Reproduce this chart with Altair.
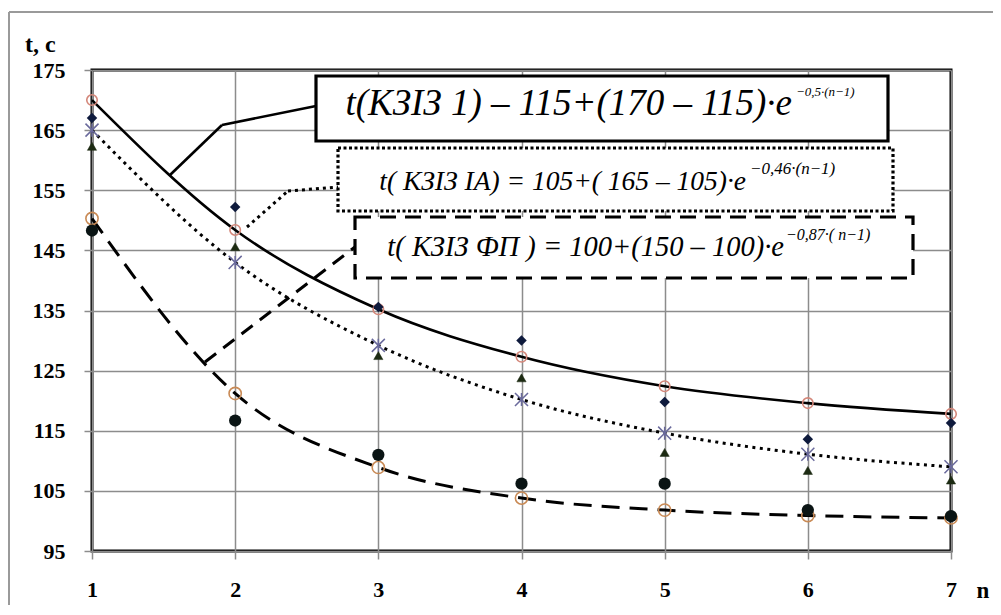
import altair as alt
import pandas as pd

# ---------------- data ----------------
n_values = [1, 2, 3, 4, 5, 6, 7]
# curve t(КЗІЗ 1): calculated points (pink open circles) and experiment (diamonds)
kziz1_calc = [170.0, 148.4, 135.2, 127.3, 122.4, 119.6, 117.8]
kziz1_exp = [167.0, 152.2, 135.6, 130.0, 119.8, 113.6, 116.3]
# curve t(КЗІЗ ІА): calculated points (asterisks) and experiment (triangles)
kziz_ia_calc = [165.0, 143.0, 129.2, 120.2, 114.6, 111.1, 109.0]
kziz_ia_exp = [162.3, 145.6, 127.5, 123.8, 111.4, 108.4, 106.8]
# curve t(КЗІЗ ФП): calculated points (orange open circles) and experiment (black dots)
kziz_fp_calc = [150.3, 121.2, 108.9, 103.8, 101.8, 100.9, 100.5]
kziz_fp_exp = [148.3, 116.7, 111.0, 106.2, 106.2, 101.8, 100.8]

y_ticks = [95, 105, 115, 125, 135, 145, 155, 165, 175]

eq1_main = "t(КЗІЗ 1) – 115+(170 – 115)·e"
eq1_sup = "−0,5·(n−1)"
eq2_main = "t( КЗІЗ ІА) = 105+( 165 – 105)·e"
eq2_sup = "−0,46·(n−1)"
eq3_main = "t( КЗІЗ ФП ) = 100+(150 – 100)·e"
eq3_sup = "−0,87·( n−1)"
y_title = "t, c"
x_title = "n"

# ---------------- helpers ----------------
def frame(vals):
    return pd.DataFrame({"n": n_values, "t": vals})

GRID = "#8c8c8c"
SERIF = "Times New Roman, Liberation Serif, DejaVu Serif"

x_enc = alt.X(
    "n:Q",
    scale=alt.Scale(domain=[1, 7], nice=False, zero=False),
    axis=alt.Axis(values=n_values, format="d", title=None, labelFlush=False,
                  labelPadding=20),
)
y_enc = alt.Y(
    "t:Q",
    scale=alt.Scale(domain=[95, 175], nice=False, zero=False),
    axis=alt.Axis(values=y_ticks, format="d", title=None, labelPadding=19),
)

one = alt.Data(values=[{}])

# ---------------- curves ----------------
line1 = alt.Chart(frame(kziz1_calc)).mark_line(
    color="black", strokeWidth=2.6, interpolate="monotone"
).encode(x=x_enc, y=y_enc)
line2 = alt.Chart(frame(kziz_ia_calc)).mark_line(
    color="black", strokeWidth=3, strokeDash=[3, 4.5], interpolate="monotone"
).encode(x=x_enc, y=y_enc)
line3 = alt.Chart(frame(kziz_fp_calc)).mark_line(
    color="black", strokeWidth=3, strokeDash=[18, 10], interpolate="monotone"
).encode(x=x_enc, y=y_enc)

# ---------------- markers ----------------
pink_open = alt.Chart(frame(kziz1_calc)).mark_point(
    shape="circle", filled=False, stroke="#d4877a", strokeWidth=1.6, size=110, opacity=1
).encode(x=x_enc, y=y_enc)
orange_open = alt.Chart(frame(kziz_fp_calc)).mark_point(
    shape="circle", filled=False, stroke="#c98a55", strokeWidth=1.6, size=150, opacity=1
).encode(x=x_enc, y=y_enc)
asterisk = alt.Chart(frame(kziz_ia_calc)).mark_point(
    shape="M-1,-1L1,1M-1,1L1,-1M0,-1L0,1", filled=False, stroke="#6a6a9c",
    strokeWidth=1.5, size=170, opacity=1
).encode(x=x_enc, y=y_enc)
triangles = alt.Chart(frame(kziz_ia_exp)).mark_point(
    shape="triangle-up", filled=True, fill="#1c2a12", stroke="#1c2a12",
    strokeWidth=0.5, size=85, opacity=1
).encode(x=x_enc, y=y_enc)
diamonds = alt.Chart(frame(kziz1_exp)).mark_point(
    shape="diamond", filled=True, fill="#0e1a3c", size=110, opacity=1
).encode(x=x_enc, y=y_enc)
black_dots = alt.Chart(frame(kziz_fp_exp)).mark_point(
    shape="circle", filled=True, fill="#0a1414", size=150, opacity=1
).encode(x=x_enc, y=y_enc)

# ---------------- annotation boxes (pixel positions in plot area) ----------------
def box(x1, x2, y1, y2, dash=None, width=3.2):
    kw = dict(fill="white", stroke="black", strokeWidth=width)
    if dash:
        kw["strokeDash"] = dash
    return alt.Chart(one).mark_rect(**kw).encode(
        x=alt.value(x1), x2=alt.value(x2), y=alt.value(y1), y2=alt.value(y2)
    )

def seg(x1, y1, x2, y2, dash=None, width=2.6):
    kw = dict(color="black", strokeWidth=width)
    if dash:
        kw["strokeDash"] = dash
    return alt.Chart(one).mark_rule(**kw).encode(
        x=alt.value(x1), y=alt.value(y1), x2=alt.value(x2), y2=alt.value(y2)
    )

def label(txt, x, y, size, italic=True, bold=False, align="left"):
    kw = dict(font=SERIF, fontSize=size, align=align, baseline="middle", color="black")
    if italic:
        kw["fontStyle"] = "italic"
    if bold:
        kw["fontWeight"] = "bold"
    return alt.Chart(one).mark_text(text=txt, **kw).encode(
        x=alt.value(x), y=alt.value(y)
    )

leaders = [
    seg(78, 105, 130, 55), seg(130, 55, 224, 36),
    seg(155, 157, 196, 121, dash=[3, 4], width=3), seg(196, 121, 246, 117, dash=[3, 4], width=3),
    seg(113, 292, 263, 177, dash=[14, 9], width=3),
]
boxes = [
    box(224, 796, 6, 71),
    box(246, 801, 78, 141, dash=[3, 2.5]),
    box(263, 821, 147, 208, dash=[16, 9]),
]
texts = [
    label(eq1_main, 700, 34, 37, align="right"), label(eq1_sup, 704, 22, 13),
    label(eq2_main, 654, 112, 27.5, align="right"), label(eq2_sup, 658, 99, 17),
    label(eq3_main, 692, 177, 28.5, align="right"), label(eq3_sup, 694, 165, 16),
    label(y_title, -67, -25, 24, italic=False, bold=True),
    label(x_title, 891, 521, 23, italic=False, bold=True, align="center"),
]
outer = [
    alt.Chart(one).mark_rule(color="#9a9a9a", strokeWidth=2).encode(
        x=alt.value(-83), x2=alt.value(901), y=alt.value(-58)),
    alt.Chart(one).mark_rule(color="#9a9a9a", strokeWidth=2).encode(
        x=alt.value(-83), y=alt.value(-58), y2=alt.value(560)),
]

chart = alt.layer(
    line1, line2, line3,
    pink_open, orange_open, asterisk, triangles, diamonds, black_dots,
    *leaders, *boxes, *texts, *outer,
).properties(
    width=859, height=481,
    autosize=alt.AutoSizeParams(type="none"),
    padding={"left": 84, "top": 62, "right": 42, "bottom": 54},
    background="white",
).configure_view(
    stroke="black", strokeWidth=3
).configure_axis(
    domain=False, grid=True, gridColor=GRID, gridWidth=1.5,
    tickColor=GRID, tickSize=8, tickWidth=1.5,
    labelFont=SERIF, labelFontSize=22, labelFontWeight="bold", labelColor="black",
)

chart.save("out.html", embed_options={"renderer": "svg", "actions": False})
